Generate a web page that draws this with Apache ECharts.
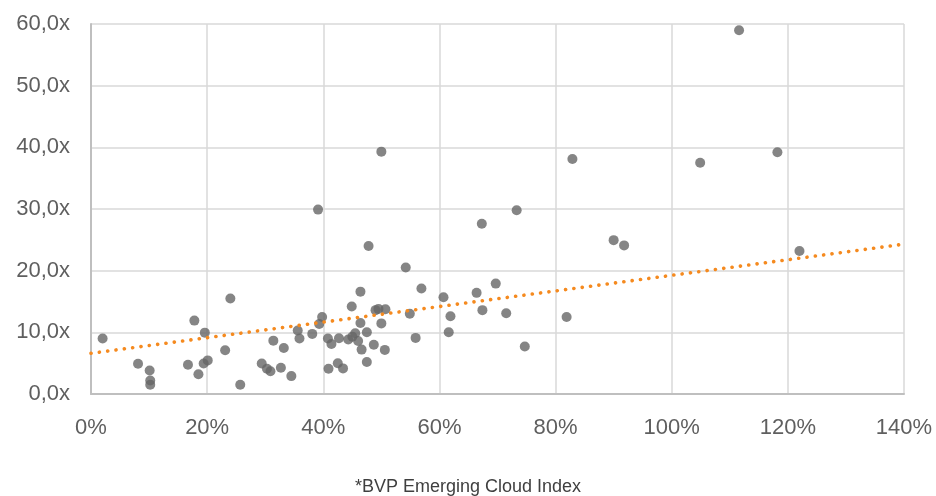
<!DOCTYPE html>
<html>
<head>
<meta charset="utf-8">
<script src="https://cdn.jsdelivr.net/npm/echarts@6/dist/echarts.min.js"></script>
<style>
html,body{margin:0;padding:0;background:#fff;}
#chart{width:936px;height:496px;}
</style>
</head>
<body>
<div id="chart"></div>
<script>
// Growth (%) on x, multiple (x) on y
var growthPct = [2.0, 8.1, 10.1, 10.2, 10.2, 16.7, 17.8, 18.5, 19.6, 19.4, 20.1, 23.1, 24.0, 25.7,
  29.4, 30.3, 30.9, 31.4, 32.7, 33.2, 34.5, 35.6, 35.9, 38.1, 39.3, 39.8, 39.1,
  40.8, 41.4, 42.7, 40.9, 42.5, 43.4, 44.3, 45.0, 45.5, 46.0, 44.9, 46.4, 46.4, 46.6,
  47.5, 47.5, 47.8, 48.7, 49.0, 49.5, 50.0, 50.7, 50.6, 50.0, 54.2, 54.9, 55.9, 56.9,
  60.7, 61.9, 61.6, 66.4, 67.4, 67.3, 69.7, 71.5, 73.3, 74.7, 81.9, 82.9, 90.0, 91.8,
  104.9, 111.6, 118.2, 122.0];
var multiple = [9.0, 4.9, 3.8, 2.2, 1.5, 4.75, 11.9, 3.2, 9.95, 4.95, 5.45, 7.1, 15.5, 1.5,
  4.95, 4.1, 3.7, 8.65, 4.25, 7.45, 2.9, 10.3, 9.0, 9.75, 11.35, 12.5, 29.9,
  9.0, 8.1, 9.05, 4.1, 5.0, 4.15, 8.85, 9.3, 9.85, 8.6, 14.2, 16.6, 11.5, 7.2,
  10.0, 5.2, 24.0, 8.0, 13.6, 13.8, 11.45, 13.75, 7.15, 39.3, 20.5, 13.0, 9.1, 17.1,
  15.7, 12.6, 10.0, 16.4, 13.6, 27.6, 17.9, 13.1, 29.8, 7.7, 12.5, 38.1, 24.95, 24.1,
  37.5, 59.0, 39.2, 23.2];
var trendX = [0, 140];
var trendY = [6.6, 24.3];
var xTicks = [0, 20, 40, 60, 80, 100, 120, 140];
var yTicks = [0, 10, 20, 30, 40, 50, 60];
var footnote = '*BVP Emerging Cloud Index';

var points = growthPct.map(function (g, i) { return [g, multiple[i]]; });
var trend = trendX.map(function (x, i) { return [x, trendY[i]]; });

var chart = echarts.init(document.getElementById('chart'));
var labelFont = { color: '#5f5f5f', fontSize: 22, fontFamily: 'Liberation Sans' };
chart.setOption({
  animation: false,
  grid: { left: 91, right: 32, top: 24, bottom: 102 },
  xAxis: {
    type: 'value', min: xTicks[0], max: xTicks[xTicks.length - 1], interval: 20,
    axisLine: { show: true, lineStyle: { color: '#bfbfbf', width: 2 } },
    axisTick: { show: false },
    splitLine: { show: true, lineStyle: { color: '#d9d9d9', width: 1.5 } },
    axisLabel: Object.assign({ margin: 23, formatter: function (v) { return v + '%'; } }, labelFont)
  },
  yAxis: {
    type: 'value', min: yTicks[0], max: yTicks[yTicks.length - 1], interval: 10,
    axisLine: { show: true, lineStyle: { color: '#bfbfbf', width: 2 } },
    axisTick: { show: false },
    splitLine: { show: true, lineStyle: { color: '#d9d9d9', width: 1.5 } },
    axisLabel: Object.assign({ margin: 21, formatter: function (v) { return v.toFixed(1).replace('.', ',') + 'x'; } }, labelFont)
  },
  series: [
    {
      type: 'line', data: trend, symbol: 'none', z: 3,
      lineStyle: { color: '#F58A1F', width: 3.6, type: [0.1, 8.3], cap: 'round' }
    },
    {
      type: 'scatter', data: points, symbol: 'circle', symbolSize: 10, z: 2,
      itemStyle: { color: '#666666' }
    }
  ],
  graphic: [{
    type: 'text', left: 'center', top: 478,
    style: { text: footnote, fontSize: 18, fontFamily: 'Liberation Sans', fill: '#3f3f3f' }
  }]
});
</script>
</body>
</html>
